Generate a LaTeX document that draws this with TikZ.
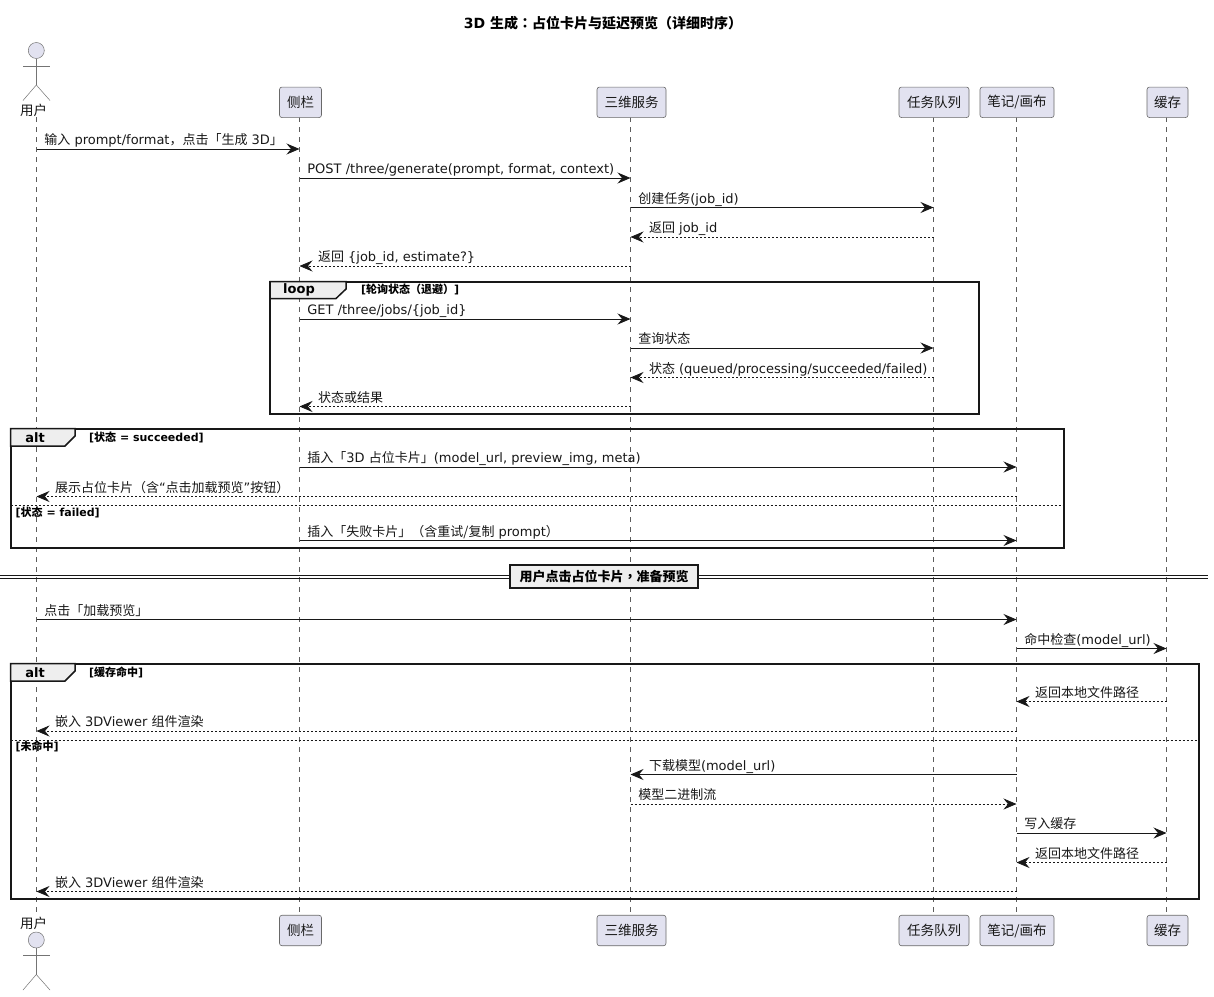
\documentclass[tikz,border=0pt]{standalone}
\usepackage{fontspec}
\setmainfont{DejaVu Sans}
\newfontfamily\cjkfont{Noto Sans CJK SC}
\newfontfamily\cjkpunct{Noto Sans CJK TC}
\usetikzlibrary{arrows.meta}
\newcommand\cj[1]{{\cjkfont #1}}
\newcommand\cjp[1]{{\cjkpunct #1}}
\definecolor{partfill}{HTML}{E2E2F0}
\definecolor{inkc}{HTML}{181818}
\definecolor{tabfill}{HTML}{EEEEEE}
\tikzset{
  lifeline/.style={draw=inkc!70,line width=0.5pt,dash pattern=on 5pt off 5pt},
  part/.style={draw=inkc!65,line width=0.6pt,fill=partfill,rounded corners=2.5pt,minimum height=30.5pt,inner sep=0pt,font=\fontsize{13.5pt}{15pt}\selectfont,text=inkc},
  actorhead/.style={circle,draw=inkc!60,line width=0.5pt,fill=partfill,minimum size=16pt,inner sep=0pt},
  actorline/.style={draw=inkc!60,line width=0.5pt},
  actorlabel/.style={font=\fontsize{13.5pt}{15pt}\selectfont,text=inkc,inner sep=0pt},
  solidmsg/.style={draw=inkc,line width=0.9pt,-{Stealth[length=13pt,width=11pt,inset=4.5pt]}},
  dashmsg/.style={draw=inkc,line width=0.7pt,dash pattern=on 2pt off 2pt,-{Stealth[length=13pt,width=11pt,inset=4.5pt,sep=0pt]}},
  msglabel/.style={anchor=base west,inner sep=0pt,font=\fontsize{13pt}{15pt}\selectfont,text=inkc},
  framebox/.style={draw=inkc,line width=2pt},
  frametab/.style={draw=inkc,line width=1.5pt,fill=tabfill},
  framekind/.style={inner sep=0pt,font=\fontsize{13pt}{15pt}\selectfont\bfseries,text=black},
  guardtext/.style={anchor=west,inner sep=0pt,font=\fontsize{11pt}{12pt}\selectfont\bfseries,text=black},
  elseline/.style={draw=inkc,line width=0.8pt,dash pattern=on 2pt off 2pt},
  divider/.style={draw=inkc,line width=1pt},
  dividerbox/.style={draw=inkc,line width=2pt,fill=tabfill,minimum width=188pt,minimum height=23pt,inner sep=0pt,font=\fontsize{13pt}{14pt}\selectfont\bfseries,text=black},
}
% \fwd[style]{from}{to}{y}{label}: label sits beside the start of the arrow
\newcommand\fwd[5][solidmsg]{%
  \draw[#1] (#2 |- 0,#4) -- (#3 |- 0,#4);
  \path (#2 |- 0,#4) ++(7.7,-4.4) node[msglabel] {#5};}
% \bwd[style]{from}{to}{y}{label}: label sits beside the arrow head
\newcommand\bwd[5][dashmsg]{%
  \draw[#1] (#2 |- 0,#4) -- (#3 |- 0,#4);
  \path (#3 |- 0,#4) ++(18.3,-4.4) node[msglabel] {#5};}
% \actorfig{name}{head y}
\newcommand\actorfig[2]{%
  \node[actorhead] (#1) at (36.3,#2) {};
  \coordinate (#1hip) at (36.3,#2+34.5);
  \draw[actorline] (#1.south) -- (#1hip);
  \draw[actorline] (23,#2+15.5) -- (50,#2+15.5);
  \draw[actorline] (#1hip) -- (23,#2+50);
  \draw[actorline] (#1hip) -- (50,#2+50);}
\begin{document}
\begin{tikzpicture}[x=1pt,y=-1pt]
\useasboundingbox (0,0) rectangle (1214,996);
\fill[white] (0,0) rectangle (1214,996);

\node[anchor=center,inner sep=0pt,font=\fontsize{14pt}{16pt}\selectfont\bfseries,text=black] (title) at (603,23) {3D \cj{生成}\cjp{：}\cj{占位卡片与延迟预览（详细时序）}};

% lifeline anchors
\foreach \n/\x in {U/36.5,S/299.5,T/630.5,Q/933.5,N/1016.5,C/1166.5}{
  \coordinate (\n) at (\x,117);
  \coordinate (\n b) at (\x,915);
  \draw[lifeline] (\n) -- (\n b);
}

% participants, top
\actorfig{utop}{50.5}
\node[actorlabel] (ulabel) at (33.5,110) {\cj{用户}};
\node[part,minimum width=42pt] (s1) at (300.5,102.3) {\cj{侧栏}};
\node[part,minimum width=69pt] (t1) at (631.5,102.3) {\cj{三维服务}};
\node[part,minimum width=70pt] (q1) at (934,102.3) {\cj{任务队列}};
\node[part,minimum width=74pt] (n1) at (1017,102.3) {\cj{笔记/画布}};
\node[part,minimum width=41pt] (c1) at (1167.5,102.3) {\cj{缓存}};

% participants, bottom
\actorfig{ubot}{940}
\node[actorlabel] (ulabelb) at (33.5,923.5) {\cj{用户}};
\node[part,minimum width=42pt] (s2) at (300.5,930.5) {\cj{侧栏}};
\node[part,minimum width=69pt] (t2) at (631.5,930.5) {\cj{三维服务}};
\node[part,minimum width=70pt] (q2) at (934,930.5) {\cj{任务队列}};
\node[part,minimum width=74pt] (n2) at (1017,930.5) {\cj{笔记/画布}};
\node[part,minimum width=41pt] (c2) at (1167.5,930.5) {\cj{缓存}};

% messages before the loop
\fwd{U}{S}{149}{\cj{输入} prompt/format\cj{，点击「生成} 3D\cj{」}}
\fwd{S}{T}{178}{POST /three/generate(prompt, format, context)}
\fwd{T}{Q}{207.5}{\cj{创建任务}(job\_id)}
\bwd{Q}{T}{237}{\cj{返回} job\_id}
\bwd{T}{S}{266}{\cj{返回} \{job\_id, estimate?\}}

% loop frame
\draw[framebox] (270,281.5) rectangle (979,414);
\draw[frametab] (270,281.5) -- (346,281.5) -- (346,289) -- (336,298.5) -- (270,298.5) -- cycle;
\node[framekind] (loopk) at (299,290) {loop};
\node[guardtext] (loopg) at (361,289.5) {[\cj{轮询状态（退避）}]};
\fwd{S}{T}{319}{GET /three/jobs/\{job\_id\}}
\fwd{T}{Q}{348}{\cj{查询状态}}
\bwd{Q}{T}{377.5}{\cj{状态} (queued/processing/succeeded/failed)}
\bwd{T}{S}{406.5}{\cj{状态或结果}}

% first alt frame
\draw[framebox] (10.5,428.5) rectangle (1064,548);
\draw[frametab] (10.5,428.5) -- (75,428.5) -- (75,436) -- (65,446) -- (10.5,446) -- cycle;
\node[framekind] (alt1k) at (35,437.5) {alt};
\node[guardtext] (alt1g) at (89,437) {[\cj{状态} = succeeded]};
\fwd{S}{N}{467}{\cj{插入「}3D \cj{占位卡片」}(model\_url, preview\_img, meta)}
\bwd{N}{U}{496.5}{\cj{展示占位卡片（含}“\cj{点击加载预览}”\cj{按钮）}}
\coordinate (e1a) at (10.5,505.5);
\coordinate (e1b) at (1064,505.5);
\draw[elseline] (e1a) -- (e1b);
\node[guardtext] (alt1e) at (15.5,512) {[\cj{状态} = failed]};
\fwd{S}{N}{540.5}{\cj{插入「失败卡片」（含重试/复制} prompt\cj{）}}

% divider
\coordinate (d1a) at (0,575);
\coordinate (d1b) at (1208,575);
\coordinate (d2a) at (0,578.5);
\coordinate (d2b) at (1208,578.5);
\draw[divider] (d1a) -- (d1b);
\draw[divider] (d2a) -- (d2b);
\node[dividerbox] (div) at (604,576.5) {\cj{用户点击占位卡片}\cjp{，}\cj{准备预览}\hspace{5pt}};

\fwd{U}{N}{619.5}{\cj{点击「加载预览」}}
\fwd{N}{C}{648.5}{\cj{命中检查}(model\_url)}

% second alt frame
\draw[framebox] (10.5,663.5) rectangle (1198.5,899);
\draw[frametab] (10.5,663.5) -- (75,663.5) -- (75,671) -- (65,681) -- (10.5,681) -- cycle;
\node[framekind] (alt2k) at (35,672.5) {alt};
\node[guardtext] (alt2g) at (89,672) {[\cj{缓存命中}]};
\bwd{C}{N}{701.5}{\cj{返回本地文件路径}}
\bwd{N}{U}{731}{\cj{嵌入} 3DViewer \cj{组件渲染}}
\coordinate (e2a) at (10.5,740.5);
\coordinate (e2b) at (1198.5,740.5);
\draw[elseline] (e2a) -- (e2b);
\node[guardtext] (alt2e) at (15.5,746.5) {[\cj{未命中}]};
\bwd[solidmsg]{N}{T}{774.5}{\cj{下载模型}(model\_url)}
\fwd[dashmsg]{T}{N}{804}{\cj{模型二进制流}}
\fwd{N}{C}{833}{\cj{写入缓存}}
\bwd{C}{N}{862.5}{\cj{返回本地文件路径}}
\bwd{N}{U}{891.5}{\cj{嵌入} 3DViewer \cj{组件渲染}}
\end{tikzpicture}
\end{document}
